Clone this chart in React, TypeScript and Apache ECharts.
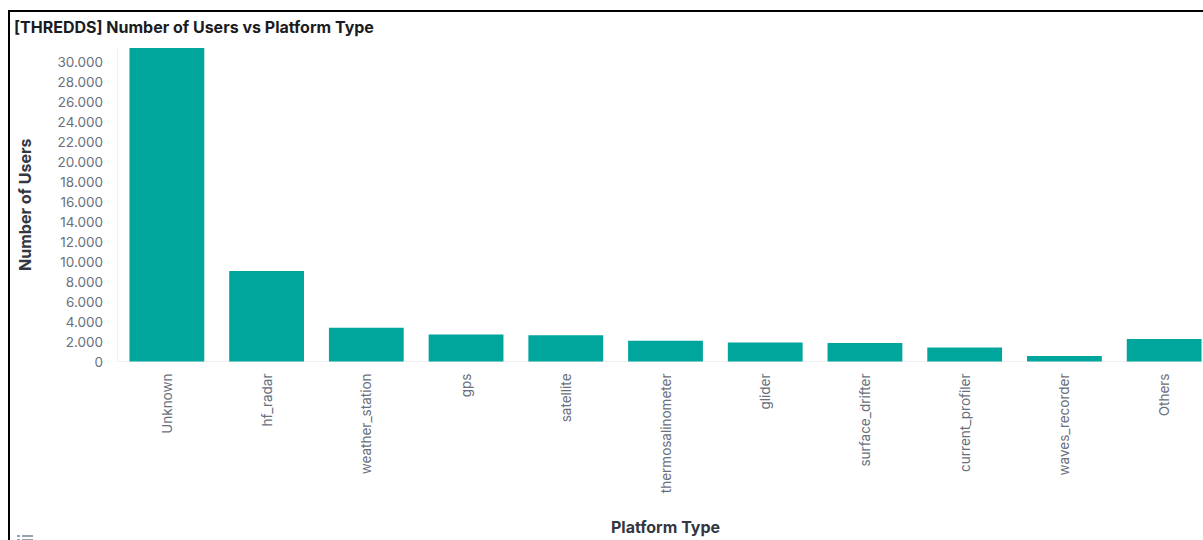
import React, { useEffect, useRef } from "react";
import * as echarts from "echarts";

const categories = [
  "Unknown",
  "hf_radar",
  "weather_station",
  "gps",
  "satellite",
  "thermosalinometer",
  "glider",
  "surface_drifter",
  "current_profiler",
  "waves_recorder",
  "Others",
];
const users = [31350, 9050, 3380, 2700, 2620, 2080, 1890, 1850, 1400, 540, 2250];

const titleText = "[THREDDS] Number of Users vs Platform Type";
const yName = "Number of Users";
const xName = "Platform Type";

const fmt = (v: number) => String(Math.round(v)).replace(/\B(?=(\d{3})+(?!\d))/g, ".");

const FONT = "Inter, 'Noto Sans', sans-serif";

export default function App() {
  const ref = useRef<HTMLDivElement>(null);
  useEffect(() => {
    if (!ref.current) return;
    const chart = echarts.init(ref.current, undefined, { renderer: "svg" });
    chart.setOption({
      animation: false,
      backgroundColor: "#ffffff",
      textStyle: { fontFamily: FONT },
      title: {
        text: titleText,
        left: 9,
        top: 14,
        textStyle: { fontSize: 16, fontWeight: 700, color: "#1a1c21", fontFamily: FONT },
      },
      grid: { left: 117, top: 48, width: 1097, height: 313.5 },
      xAxis: {
        type: "category",
        data: categories,
        axisLine: { show: true, lineStyle: { color: "#eef0f3", width: 1 } },
        axisTick: { show: false },
        axisLabel: {
          rotate: 90,
          margin: 12,
          fontSize: 13.5,
          color: "#69707d",
          fontFamily: FONT,
        },
        name: xName,
        nameLocation: "middle",
        nameGap: 157,
        nameTextStyle: { fontSize: 16, fontWeight: 700, color: "#343741", fontFamily: FONT },
      },
      yAxis: {
        type: "value",
        min: 0,
        max: "dataMax",
        interval: 2000,
        splitLine: { show: false },
        axisLine: { show: true, lineStyle: { color: "#eef0f3", width: 1 } },
        axisTick: { show: false },
        axisLabel: {
          margin: 14,
          fontSize: 13.5,
          color: "#69707d",
          fontFamily: FONT,
          showMaxLabel: false,
          formatter: (v: number) => fmt(v),
        },
        name: yName,
        nameLocation: "middle",
        nameGap: 84,
        nameTextStyle: { fontSize: 16, fontWeight: 700, color: "#343741", fontFamily: FONT },
      },
      series: [
        {
          type: "bar",
          data: users,
          barCategoryGap: "25%",
          itemStyle: { color: "#00a69b" },
        },
      ],
      graphic: [
        { type: "rect", shape: { x: 17, y: 535, width: 3, height: 2 }, style: { fill: "#98a2b3" } },
        { type: "rect", shape: { x: 22, y: 535, width: 11, height: 2 }, style: { fill: "#98a2b3" } },
        { type: "rect", shape: { x: 17, y: 539, width: 3, height: 2 }, style: { fill: "#98a2b3" } },
        { type: "rect", shape: { x: 22, y: 539, width: 11, height: 2 }, style: { fill: "#98a2b3" } },
      ],
    });
    return () => chart.dispose();
  }, []);
  return (
    <div
      style={{
        position: "fixed",
        left: 0,
        top: 0,
        width: 1203,
        height: 540,
        overflow: "hidden",
        background: "#fff",
      }}
    >
      <div ref={ref} style={{ position: "absolute", left: 0, top: 0, width: 1230, height: 540 }} />
      <div style={{ position: "absolute", left: 8, top: 10, width: 1300, height: 2, background: "#000" }} />
      <div style={{ position: "absolute", left: 8, top: 10, width: 2, height: 600, background: "#000" }} />
    </div>
  );
}
